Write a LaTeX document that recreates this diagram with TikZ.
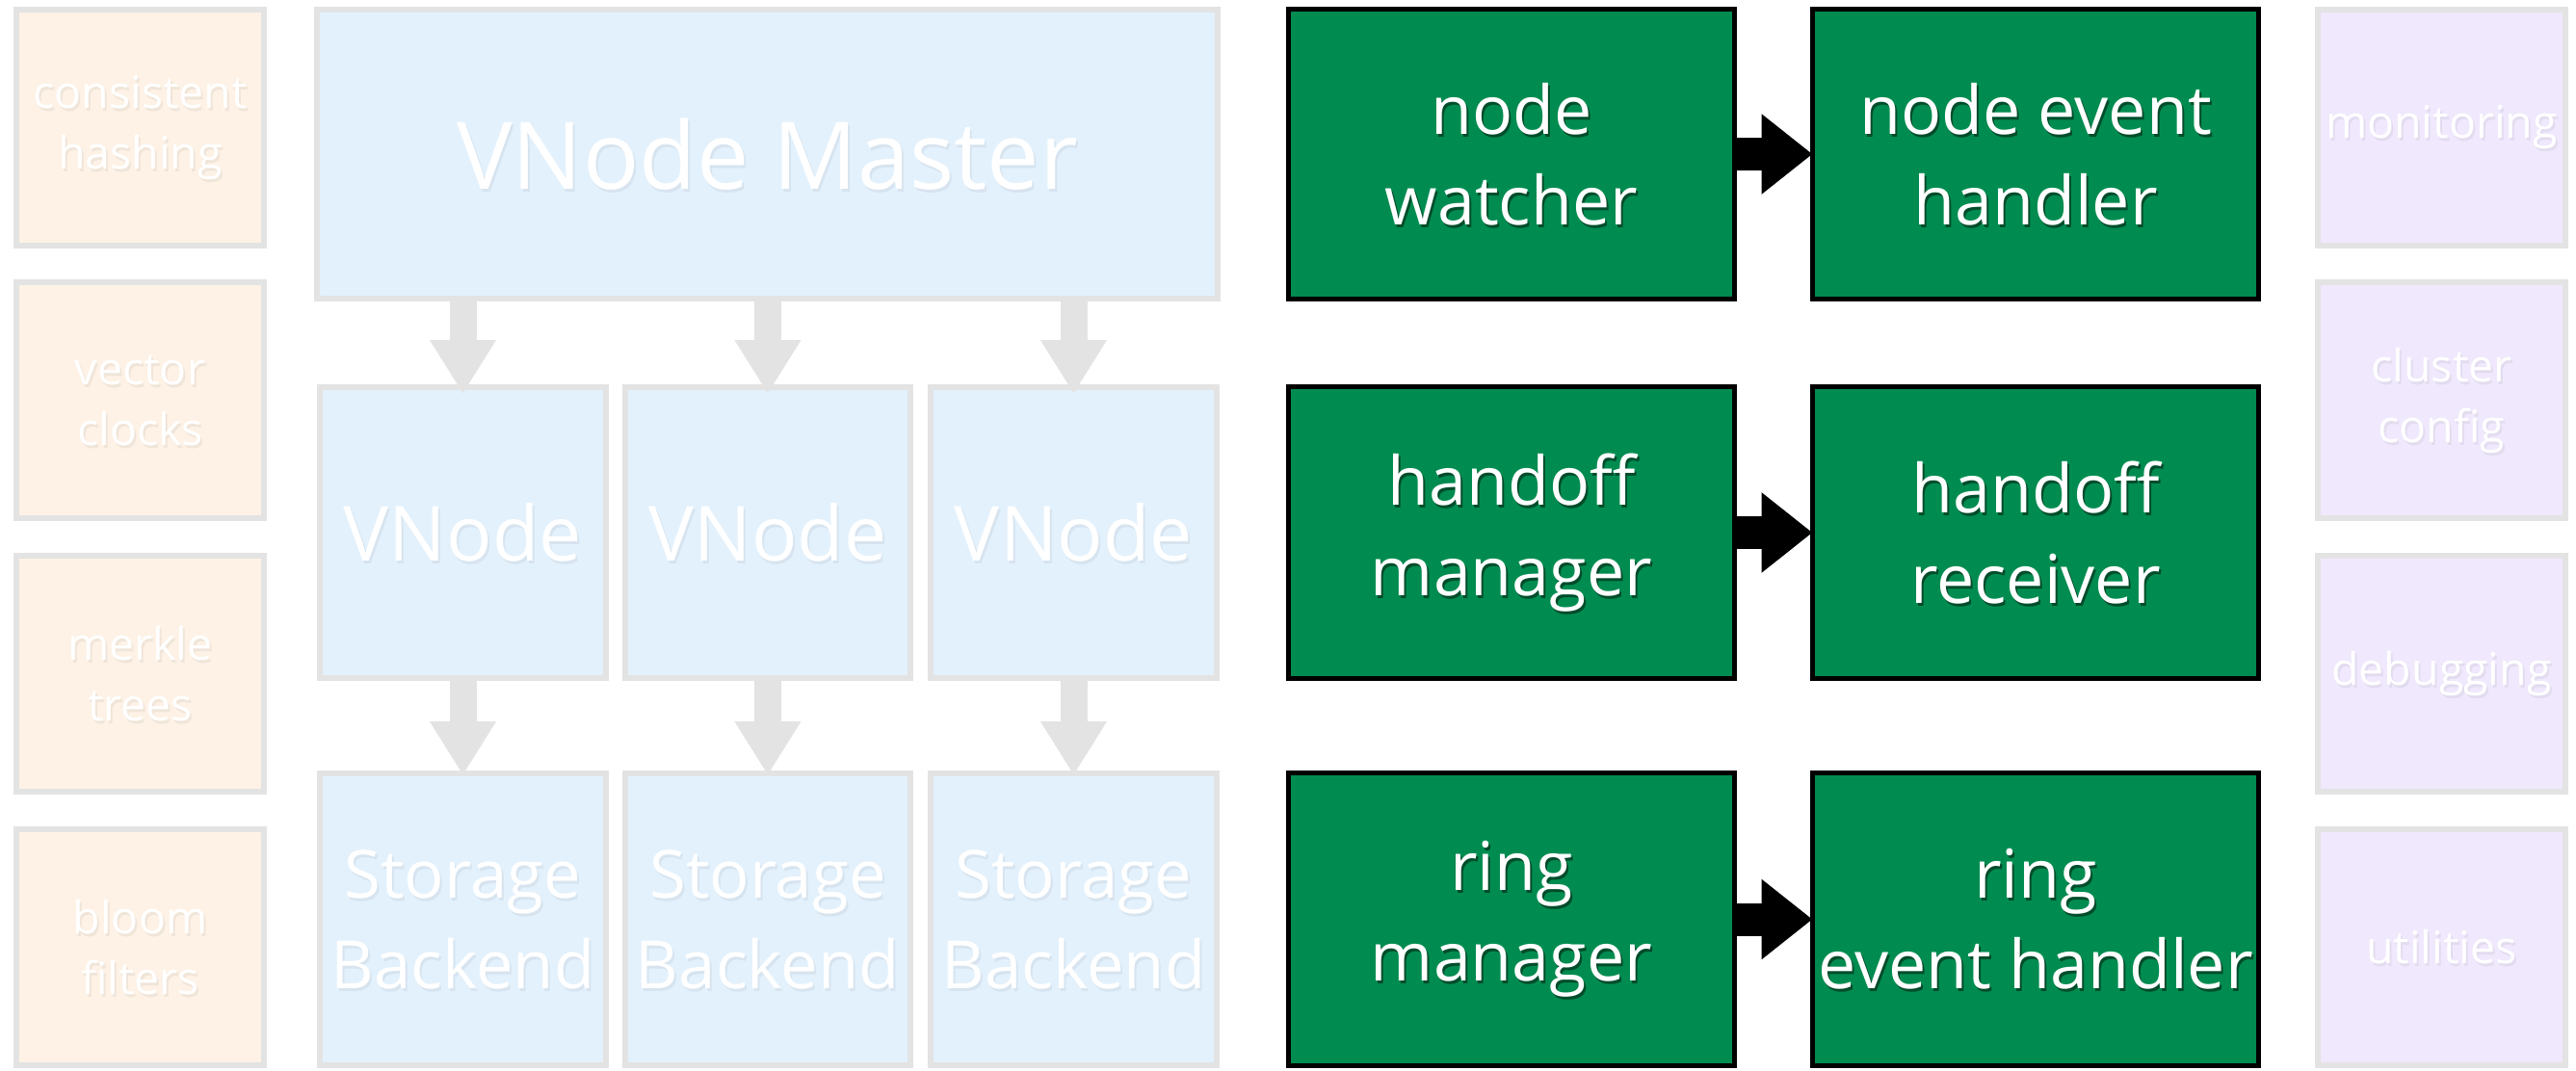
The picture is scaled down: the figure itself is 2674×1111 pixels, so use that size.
\documentclass[tikz,border=0pt]{standalone}
\usepackage{fontspec}
\setmainfont{Open Sans}
\usetikzlibrary{arrows.meta}
\definecolor{greenfill}{RGB}{0,140,80}
\definecolor{orangefill}{RGB}{253,242,229}
\definecolor{bluefill}{RGB}{227,241,252}
\definecolor{purplefill}{RGB}{240,232,252}
\definecolor{paleborder}{RGB}{227,227,227}
% shadowed white label centred on a box
\newcommand\boxlabel[4]{%
  \node[#2, #3] (#1-shadow) at ([shift={(2pt,-3pt)}]#1.center) {#4};
  \node[#2] (#1-label) at (#1.center) {#4};}
\begin{document}
\begin{tikzpicture}[x=1pt,y=-1pt,
  panel/.style={draw=paleborder, line width=6pt, inner sep=0pt, outer sep=0pt},
  orangebox/.style={panel, fill=orangefill, minimum width=257pt, minimum height=245pt},
  purplebox/.style={panel, fill=purplefill, minimum width=257pt, minimum height=245pt},
  bluebox/.style={panel, fill=bluefill},
  greenbox/.style={draw=black, line width=5pt, fill=greenfill, inner sep=0pt, outer sep=0pt,
    minimum width=463pt},
  txt/.style={text=white, align=center, inner sep=0pt},
  sidetxt/.style={txt, font=\fontsize{46.5}{63}\selectfont},
  mastertxt/.style={txt, font=\fontsize{97}{110}\selectfont},
  vnodetxt/.style={txt, font=\fontsize{79}{94}\selectfont},
  storetxt/.style={txt, font=\fontsize{69}{94}\selectfont},
  greentxt/.style={txt, font=\fontsize{70}{94}\selectfont},
  paleshadow/.style={text=black, text opacity=0.05},
  darkshadow/.style={text=black, text opacity=0.45},
  grayarrow/.style={draw=paleborder, line width=28pt, -{Triangle[width=65pt,length=56pt]}},
  blackarrow/.style={draw=black, line width=34pt, -{Triangle[width=80pt,length=53pt]}},
]
\useasboundingbox (0,0) rectangle (2674,1111);

% left column: algorithms
\node[orangebox] (hash)   at (145.5,132.5) {};
\node[orangebox] (clocks) at (145.5,415.5) {};
\node[orangebox] (merkle) at (145.5,699.5) {};
\node[orangebox] (bloom)  at (145.5,983.5) {};

% right column: support
\node[purplebox] (monitor) at (2534.5,132.5) {};
\node[purplebox] (cluster) at (2534.5,415.5) {};
\node[purplebox] (debug)   at (2534.5,699.5) {};
\node[purplebox] (utils)   at (2534.5,983.5) {};

% vnode stack
\node[bluebox, minimum width=935pt, minimum height=300pt] (master) at (796.5,160) {};
\node[bluebox, minimum width=297pt, minimum height=302pt] (vn1) at (480.5,553) {};
\node[bluebox, minimum width=296pt, minimum height=302pt] (vn2) at (797,553) {};
\node[bluebox, minimum width=297pt, minimum height=302pt] (vn3) at (1114.5,553) {};
\node[bluebox, minimum width=297pt, minimum height=303pt] (sb1) at (480.5,954.5) {};
\node[bluebox, minimum width=296pt, minimum height=303pt] (sb2) at (797,954.5) {};
\node[bluebox, minimum width=297pt, minimum height=303pt] (sb3) at (1114.5,954.5) {};

% cluster membership services
\node[greenbox, minimum height=301pt] (watcher)  at (1569,160) {};
\node[greenbox, minimum height=301pt] (nodeevt)  at (2113,160) {};
\node[greenbox, minimum height=303pt] (hmanager) at (1569,553) {};
\node[greenbox, minimum height=303pt] (hrecv)    at (2113,553) {};
\node[greenbox, minimum height=304pt] (rmanager) at (1569,954.5) {};
\node[greenbox, minimum height=304pt] (ringevt)  at (2113,954.5) {};

% connectors
\foreach \v in {vn1,vn2,vn3}
  \draw[grayarrow] (master.south -| \v.north) -- ([yshift=-7pt]\v.north);
\foreach \v/\s in {vn1/sb1,vn2/sb2,vn3/sb3}
  \draw[grayarrow] (\v.south) -- ([yshift=-2pt]\s.north);
\draw[blackarrow] (watcher.east) -- (nodeevt.west);
\draw[blackarrow] (hmanager.east) -- (hrecv.west);
\draw[blackarrow] (rmanager.east) -- (ringevt.west);

% labels
\boxlabel{hash}{sidetxt}{paleshadow}{consistent\\hashing}
\boxlabel{clocks}{sidetxt}{paleshadow}{vector\\clocks}
\boxlabel{merkle}{sidetxt}{paleshadow}{merkle\\trees}
\boxlabel{bloom}{sidetxt}{paleshadow}{bloom\\filters}
\boxlabel{monitor}{sidetxt}{paleshadow}{monitoring}
\boxlabel{cluster}{sidetxt}{paleshadow}{cluster\\config}
\boxlabel{debug}{sidetxt}{paleshadow}{debugging}
\boxlabel{utils}{sidetxt}{paleshadow}{utilities}
\boxlabel{master}{mastertxt}{paleshadow}{VNode Master}
\boxlabel{vn1}{vnodetxt}{paleshadow}{VNode}
\boxlabel{vn2}{vnodetxt}{paleshadow}{VNode}
\boxlabel{vn3}{vnodetxt}{paleshadow}{VNode}
\boxlabel{sb1}{storetxt}{paleshadow}{Storage\\Backend}
\boxlabel{sb2}{storetxt}{paleshadow}{Storage\\Backend}
\boxlabel{sb3}{storetxt}{paleshadow}{Storage\\Backend}
\boxlabel{watcher}{greentxt}{darkshadow}{node\\watcher}
\boxlabel{nodeevt}{greentxt}{darkshadow}{node event\\handler}
\boxlabel{hmanager}{greentxt}{darkshadow}{handoff\\manager}
\boxlabel{hrecv}{greentxt}{darkshadow}{handoff\\receiver}
\boxlabel{rmanager}{greentxt}{darkshadow}{ring\\manager}
\boxlabel{ringevt}{greentxt}{darkshadow}{ring\\event handler}
\end{tikzpicture}
\end{document}
